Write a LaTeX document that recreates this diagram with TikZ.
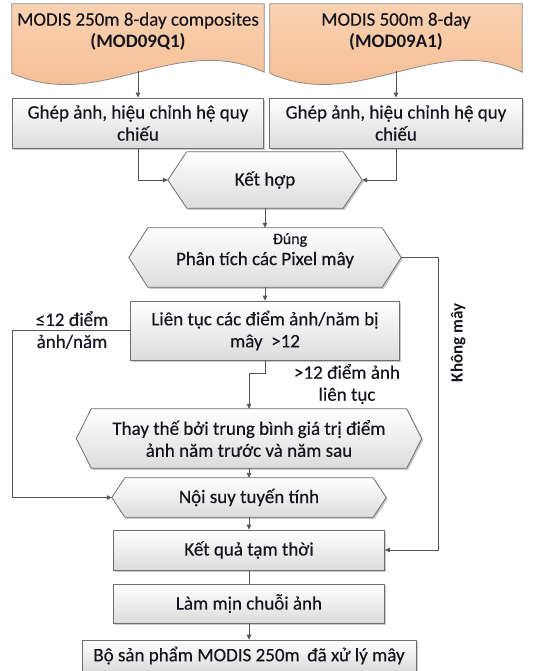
\documentclass[tikz,border=0pt]{standalone}
\usepackage{fontspec}
\setmainfont{Carlito}[UprightFeatures={FakeBold=0.35}]
\usetikzlibrary{arrows.meta,shadows,backgrounds,calc}
\definecolor{doctop}{HTML}{FAD2B2}
\definecolor{docbot}{HTML}{F4B88C}
\definecolor{boxbot}{HTML}{DCDCDC}
\definecolor{boxline}{HTML}{6E6E6E}
\definecolor{conn}{HTML}{555555}
\definecolor{txt}{HTML}{15151F}
\tikzset{
  base/.style={inner sep=0pt, align=center, text=txt},
  boxstyle/.style={base, draw=boxline, line width=0.8pt, top color=white, bottom color=boxbot,
    drop shadow={shadow xshift=1.6pt, shadow yshift=-1.6pt, opacity=.35, fill=black!60}},
  plain/.style={base},
  shapefill/.style={draw=boxline, line width=0.8pt, top color=white, bottom color=boxbot,
    drop shadow={shadow xshift=1.6pt, shadow yshift=-1.6pt, opacity=.35, fill=black!60}},
  docfill/.style={draw=black!45, line width=0.8pt, top color=doctop, bottom color=docbot},
  arr/.style={draw=conn, line width=0.8pt, -{Triangle[length=5pt,width=4.5pt]}},
  ln/.style={draw=conn, line width=0.8pt},
  lbl/.style={base, font=\fontsize{19}{22}\selectfont}
}
\newcommand{\hexshape}[2]{%
  \path[shapefill] (#1.west) -- ([xshift=#2]#1.north west) -- ([xshift=-#2]#1.north east)
    -- (#1.east) -- ([xshift=-#2]#1.south east) -- ([xshift=#2]#1.south west) -- cycle;}
\newcommand{\docshape}[1]{%
  \path[docfill] (#1.north west) -- (#1.north east) -- ([yshift=-1pt]#1.south east)
    .. controls ($(#1.south west)!0.65!(#1.south east)+(0,-40)$) and ($(#1.south west)!0.35!(#1.south east)+(0,42)$)
    .. ([yshift=-2pt]#1.south west) -- cycle;}
\begin{document}
\begin{tikzpicture}[x=1pt,y=-1pt, font=\fontsize{19}{22}\selectfont]
\useasboundingbox (0,0) rectangle (549,671);

% documents
\node[plain, minimum width=252pt, minimum height=67pt] (docL) at (138,37.5) {};
\node[plain, minimum width=252pt, minimum height=67pt] (docR) at (396,37.5) {};
\node[plain] (docLt) at (138,31.5) {MODIS 250m 8-day composites\\\textbf{(MOD09Q1)}};
\node[plain] (docRt) at (396,31.5) {MODIS 500m 8-day\\\textbf{(MOD09A1)}};

% boxes
\node[boxstyle, minimum width=251pt, minimum height=50pt] (ghepL) at (138,123) {Ghép ảnh, hiệu chỉnh hệ quy\\chiếu};
\node[boxstyle, minimum width=253pt, minimum height=50pt] (ghepR) at (396,123) {Ghép ảnh, hiệu chỉnh hệ quy\\chiếu};
\node[plain, minimum width=194pt, minimum height=56pt] (kethop) at (265,180) {Kết hợp};
\node[plain, minimum width=272pt, minimum height=59pt] (phantich) at (265,257.5) {};
\node[plain] (phantichT) at (265,260) {Phân tích các Pixel mây};
\node[plain, font=\fontsize{16}{18}\selectfont] (dung) at (290,240) {Đúng};
\node[boxstyle, minimum width=269pt, minimum height=59pt] (lientuc) at (265,330.5) {Liên tục các điểm ảnh/năm bị\\mây \ >12};
\node[plain, minimum width=345pt, minimum height=59pt] (thaythe) at (249,438.5) {Thay thế bởi trung bình giá trị điểm\\ảnh năm trước và năm sau};
\node[plain, minimum width=274pt, minimum height=39pt] (noisuy) at (249,497.5) {Nội suy tuyến tính};
\node[boxstyle, minimum width=271pt, minimum height=40pt] (ketqua) at (249,550) {Kết quả tạm thời};
\node[boxstyle, minimum width=271pt, minimum height=39pt] (lammin) at (249,603.5) {Làm mịn chuỗi ảnh};
\node[boxstyle, minimum width=334pt, minimum height=31pt] (bosp) at (249,655.5) {Bộ sản phẩm MODIS 250m \,đã xử lý mây};

% labels
\node[lbl] (lblLe) at (72,330) {≤12 điểm\\ảnh/năm};
\node[lbl] (lblGt) at (347,384) {>12 điểm ảnh\\liên tục};
\node[lbl, rotate=90, font=\bfseries\fontsize{17}{20}\selectfont] (lblKm) at (458,343) {Không mây};

\begin{scope}[on background layer]
  \docshape{docL}
  \docshape{docR}
  \hexshape{kethop}{19pt}
  \hexshape{phantich}{19pt}
  \hexshape{thaythe}{15pt}
  \hexshape{noisuy}{13pt}
\end{scope}

% connectors
\coordinate (kmR) at (438,257.5);
\coordinate (leL) at (12,330.5);
\draw[arr] (docL.south) -- (ghepL.north);
\draw[arr] (docR.south) -- (ghepR.north);
\draw[arr] (ghepL.south) |- (kethop.west);
\draw[arr] (ghepR.south) |- (kethop.east);
\draw[arr] (kethop.south) -- (phantich.north);
\draw[arr] (phantich.south) -- (lientuc.north);
\draw[arr] (phantich.east) -- (kmR) |- (ketqua.east);
\draw[arr] (lientuc.west) -- (leL) |- (noisuy.west);
\draw[arr] (lientuc.south) -- ++(0,13) -| (thaythe.north);
\draw[arr] (thaythe.south) -- (noisuy.north);
\draw[arr] (noisuy.south) -- (ketqua.north);
\draw[ln] (ketqua.south) -- (lammin.north);
\draw[arr] (lammin.south) -- (bosp.north);
\end{tikzpicture}
\end{document}
